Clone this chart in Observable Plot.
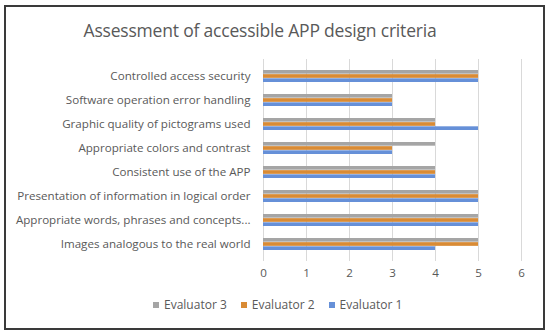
<!DOCTYPE html>
<html>
<head>
<meta charset="utf-8">
<script src="https://cdn.jsdelivr.net/npm/d3@7"></script>
<script src="https://cdn.jsdelivr.net/npm/@observablehq/plot@0.6"></script>
<style>
  html, body { margin: 0; padding: 0; background: #fff; }
  #wrap { position: relative; width: 550px; height: 334px; overflow: hidden; font-family: "Open Sans", sans-serif; }
  #frame { position: absolute; left: 4px; top: 5px; width: 537px; height: 321px; border: 2px solid #3a3a3a; box-sizing: content-box; }
  #title { position: absolute; left: 0; width: 520px; top: 18px; text-align: center; font-size: 17.5px; color: #595959; font-family: "Open Sans", sans-serif; letter-spacing: -0.2px; }
  #chart { position: absolute; left: 0; top: 0; }
  #legend { position: absolute; top: 296px; left: 153px; display: flex; gap: 14px; font-size: 12px; color: #595959; }
  #legend span.sw { display: inline-block; width: 6px; height: 6px; margin-right: 5px; vertical-align: 1px; }
</style>
</head>
<body>
<div id="wrap">
  <div id="frame"></div>
  <div id="chart"></div>
  <div id="title">Assessment of accessible APP design criteria</div>
  <div id="legend"></div>
</div>
<script>
const categories = [
  "Controlled access security",
  "Software operation error handling",
  "Graphic quality of pictograms used",
  "Appropriate colors and contrast",
  "Consistent use of the APP",
  "Presentation of information in logical order",
  "Appropriate words, phrases and concepts...",
  "Images analogous to the real world"
];
const evaluator3 = [5, 3, 4, 4, 4, 5, 5, 5];
const evaluator2 = [5, 3, 4, 3, 4, 5, 5, 5];
const evaluator1 = [5, 3, 5, 3, 4, 5, 5, 4];
const seriesNames = ["Evaluator 3", "Evaluator 2", "Evaluator 1"];
const seriesColors = ["#A5A5A5", "#D98B35", "#6690D8"];
const xTicks = [0, 1, 2, 3, 4, 5, 6];

const seriesValues = [evaluator3, evaluator2, evaluator1];
const rows = seriesNames.map((name, s) =>
  categories.map((c, i) => ({category: c, series: name, value: seriesValues[s][i]}))
);

const W = 550, H = 334, mTop = 59, mBottom = 73, pIn = 0.5, pOut = 0.3;
const step = (H - mTop - mBottom) / (categories.length - pIn + 2 * pOut);
const bw = step * (1 - pIn);
const third = bw / 3;

const barMarks = rows.map((data, s) =>
  Plot.barX(data, {
    x: "value",
    y: "category",
    fill: seriesColors[s],
    insetTop: third * s,
    insetBottom: third * (2 - s)
  })
);

const plot = Plot.plot({
  width: W,
  height: H,
  marginTop: mTop,
  marginBottom: mBottom,
  marginLeft: 263,
  marginRight: 29,
  style: {fontFamily: "Open Sans, sans-serif", fontSize: "11.6px", color: "#595959", background: "transparent"},
  x: {domain: [0, 6], ticks: xTicks, tickFormat: d3.format("d"), grid: true, tickSize: 0, tickPadding: 7, label: null},
  y: {domain: categories, paddingInner: pIn, paddingOuter: pOut, tickSize: 0, tickPadding: 13, label: null},
  marks: [
    Plot.gridX(xTicks, {stroke: "#D9D9D9", strokeOpacity: 1}),
    ...barMarks
  ]
});
document.getElementById("chart").appendChild(plot);

const legend = document.getElementById("legend");
seriesNames.forEach((n, i) => {
  const item = document.createElement("div");
  item.innerHTML = `<span class="sw" style="background:${seriesColors[i]}"></span>${n}`;
  legend.appendChild(item);
});
</script>
</body>
</html>
